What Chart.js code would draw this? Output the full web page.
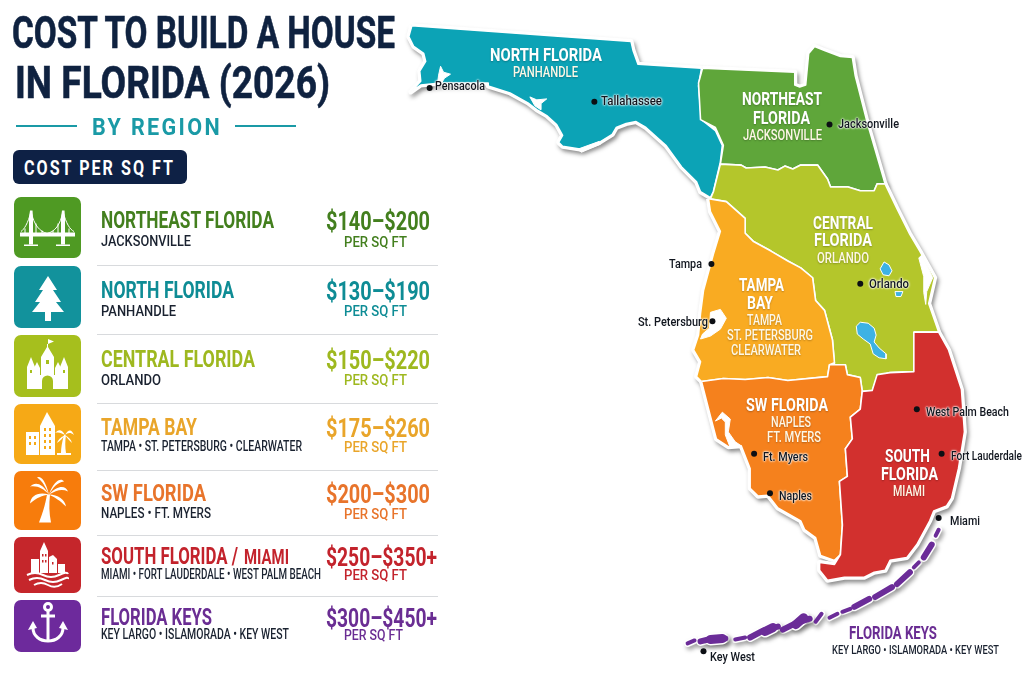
<!DOCTYPE html>
<html>
<head>
<meta charset="utf-8">
<title>Cost to build a house in Florida (2026)</title>
<script src="https://cdn.jsdelivr.net/npm/chart.js@4"></script>
<style>
  html, body { margin: 0; background: #fff; }
  #page { position: relative; width: 1024px; height: 683px; overflow: hidden; }
  canvas { position: absolute; left: 0; top: 0; }
  .t { position: absolute; white-space: nowrap; line-height: 1; transform-origin: 0 50%;
       font-family: "Liberation Sans Narrow", Roboto, sans-serif; }
  .halo { text-shadow: 0 0 2px #fff, 0 0 2px #fff, 0 0 3px #fff; }
  .soft { text-shadow: 0 1px 2px rgba(0,0,0,.25); }
  .heavy { -webkit-text-stroke: 0.6px currentColor; }
  .spaced { letter-spacing: 2.5px; }
  .box { position: absolute; }
  svg { position: absolute; }
</style>
</head>
<body>
<div id="page">
  <canvas id="mapa" width="1024" height="683"></canvas>
</div>
<script>
// datos de la tabla
const regions = ['NORTHEAST FLORIDA', 'NORTH FLORIDA', 'CENTRAL FLORIDA', 'TAMPA BAY', 'SW FLORIDA', 'SOUTH FLORIDA /', 'FLORIDA KEYS'];
const regionCities = ['JACKSONVILLE', 'PANHANDLE', 'ORLANDO', 'TAMPA • ST. PETERSBURG • CLEARWATER', 'NAPLES • FT. MYERS', 'MIAMI • FORT LAUDERDALE • WEST PALM BEACH', 'KEY LARGO • ISLAMORADA • KEY WEST'];
const costLow = [140, 130, 150, 175, 200, 250, 300];
const costHigh = [200, 190, 220, 260, 300, 350, 450];
const costOpenEnded = [false, false, false, false, false, true, true];

// contornos del mapa
const northFlorida = [[411,22],[632,38],[634,47],[639,61],[703,65],[700,83],[703,117],[717,128],[724,143],[722,160],[715,190],[712,196],[702,190],[698,180],[683,165],[667,143],[647,125],[637,119],[627,121],[617,125],[613,132],[600,140],[582,147],[563,144],[559,140],[563,133],[557,122],[547,113],[537,107],[528,100],[510,90],[488,83],[488,80],[440,80],[420,82],[410,89],[420,78],[419,68],[425,58],[423,50],[413,43],[408,33]];
const northeastFlorida = [[704,65],[797,69],[797,82],[802,84],[808,82],[811,50],[817,43],[827,47],[843,53],[855,54],[858,73],[870,120],[888,182],[880,182],[877,189],[863,189],[850,185],[833,185],[830,177],[820,163],[803,163],[795,167],[787,164],[780,168],[767,165],[748,166],[743,163],[722,162],[725,143],[717,125],[702,117],[700,80]];
const centralFlorida = [[722,162],[743,163],[748,166],[767,165],[780,168],[787,164],[795,167],[803,163],[820,163],[830,177],[833,185],[850,185],[863,189],[877,189],[880,182],[888,182],[900,207],[913,233],[923,250],[938,277],[932,303],[942,332],[917,332],[917,372],[893,373],[880,377],[875,392],[865,392],[863,378],[850,375],[848,365],[837,365],[835,340],[827,310],[818,300],[815,277],[803,267],[790,260],[773,250],[755,240],[747,232],[747,217],[728,200],[712,197],[715,190]];
const tampaBay = [[710,197],[728,200],[747,217],[747,232],[755,240],[773,250],[790,260],[803,267],[815,277],[818,300],[827,310],[835,340],[837,363],[832,365],[830,377],[790,381],[770,378],[747,380],[725,379],[703,382],[698,377],[702,362],[695,350],[700,335],[702,313],[705,290],[715,253],[722,230],[712,210]];
const swFlorida = [[703,382],[725,379],[747,380],[770,378],[790,381],[830,377],[832,365],[848,365],[850,375],[863,378],[865,392],[863,410],[853,418],[855,440],[848,450],[850,478],[842,483],[845,527],[843,557],[837,563],[823,558],[818,540],[807,532],[803,523],[780,510],[770,497],[760,498],[752,490],[752,470],[743,447],[730,448],[718,440],[712,417]];
const southFlorida = [[917,332],[942,332],[952,350],[965,390],[968,433],[962,470],[955,500],[950,508],[937,513],[933,523],[920,547],[910,560],[893,563],[888,573],[877,575],[867,580],[847,580],[830,583],[822,573],[822,565],[837,567],[843,557],[845,527],[842,483],[850,478],[848,450],[855,440],[853,418],[863,410],[865,392],[875,391],[880,375],[893,373],[917,372]];

// bahias y lagos
const pensacolaBay = [[438,72],[440,63],[443,69],[450,71],[444,75],[441,80],[437,80]];
const choctawBay = [[530,94],[537,97],[547,96],[541,101],[541,107],[535,103]];
const stJoeBay = [[578,147],[600,139],[601,142],[582,150]];
const tampaWater = [[712,312],[722,309],[728,318],[722,329],[712,336],[702,339],[704,334],[711,328]];
const charlotteHarbor = [[717,422],[724,413],[732,420],[730,433],[737,443],[743,447],[732,449],[727,436],[727,423],[723,419]];
const indianRiver = [[922,257],[925,254],[932,268],[936,277],[930,291],[929,304],[927,292],[927,276]];
const lakeOkeechobee = [[859,326],[863,322],[871,323],[877,328],[879,335],[877,342],[882,348],[889,354],[889,359],[882,358],[876,354],[873,344],[866,339],[860,334]];
const lakeKissimmee = [[887,261],[892,264],[895,270],[892,275],[886,274],[883,268]];
const lakeOrlando = [[898,291],[906,291],[904,296],[899,296]];

// cayos
const keysThin = [[[942,532],[939,538]],[[922,565],[917,570]],[[853,612],[845,615]],[[840,617],[832,621]],[[824,617],[818,625]],[[747,641],[737,643]],[[696,644],[689,647]]];
const keysThick = [[[935,547],[927,560]],[[913,575],[900,587]],[[895,590],[878,600]],[[872,602],[857,610]],[[812,622],[797,627],[785,633]],[[780,630],[765,634],[752,641]],[[727,642],[714,642],[702,645]]];
const keysBlobs = [[[806,621],[798,628]],[[775,631],[767,635]],[[724,642],[712,643]]];

// ciudades
const cityNames = ['Pensacola', 'Tallahassee', 'Jacksonville', 'Tampa', 'St. Petersburg', 'Orlando', 'West Palm Beach', 'Fort Lauderdale', 'Miami', 'Ft. Myers', 'Naples', 'Key West'];
const cityPoints = [[429,85],[595,99],[832,122],[713,263],[714,321],[863,283],[920,410],[945,455],[942,520],[756,455],[772,495],[705,655]];

const pts = arr => arr.map(([x, y]) => ({x, y}));
const closed = arr => pts(arr.concat([arr[0]]));

const outlines = [northFlorida, northeastFlorida, centralFlorida, tampaBay, swFlorida, southFlorida];
const fills = ['#0ca3b6', '#5fa63a', '#b4c62b', '#f9ab22', '#f5811d', '#d2302e'];

function polygon(arr, color, border, width) {
    return { data: closed(arr), showLine: true, pointRadius: 0, tension: 0,
             polygon: color, borderColor: border, borderWidth: width, borderJoinStyle: 'round' };
}
function stroke(arr, width, shadow) {
    return { data: pts(arr), showLine: true, pointRadius: 0, tension: 0, shadow: shadow,
             borderColor: shadow ? '#fff' : '#6b2c98', borderWidth: width, borderCapStyle: 'round', borderJoinStyle: 'round' };
}

const datasets = [];
// fondo blanco con sombra debajo de las regiones
outlines.forEach(o => datasets.push(Object.assign(polygon(o, '#fff', '#fff', 5), {shadow: true})));
keysThin.forEach(k => datasets.push(stroke(k, 7, true)));
keysThick.forEach(k => datasets.push(stroke(k, 9, true)));
keysBlobs.forEach(k => datasets.push(stroke(k, 12, true)));
outlines.forEach((o, i) => datasets.push(polygon(o, fills[i], '#fff', 1.6)));
[pensacolaBay, choctawBay, stJoeBay, tampaWater, charlotteHarbor, indianRiver].forEach(w => datasets.push(polygon(w, '#fff', '#fff', 1)));
[lakeOkeechobee, lakeKissimmee, lakeOrlando].forEach(l => datasets.push(polygon(l, '#3db2e4', '#fff', 1)));
keysThin.forEach(k => datasets.push(stroke(k, 4)));
keysThick.forEach(k => datasets.push(stroke(k, 6)));
keysBlobs.forEach(k => datasets.push(stroke(k, 9)));
datasets.push({ data: pts(cityPoints), showLine: false, pointRadius: 3, pointBorderWidth: 0, pointBackgroundColor: '#0c0f14' });
// el primero del array se pinta encima, asi que se invierte
datasets.forEach((d, i) => { d.order = datasets.length - i; });

// relleno de poligonos y sombra del mapa
const mapPlugin = {
    id: 'mapPlugin',
    beforeDatasetDraw(chart, args) {
        const ds = chart.data.datasets[args.index];
        const ctx = chart.ctx;
        ctx.save();
        if (ds.shadow) {
            ctx.shadowColor = 'rgba(0,0,0,0.35)';
            ctx.shadowBlur = 4;
            ctx.shadowOffsetX = 2;
            ctx.shadowOffsetY = 3;
        }
        if (ds.polygon) {
            ctx.beginPath();
            args.meta.data.forEach((p, i) => i ? ctx.lineTo(p.x, p.y) : ctx.moveTo(p.x, p.y));
            ctx.closePath();
            ctx.fillStyle = ds.polygon;
            ctx.fill();
        }
    },
    afterDatasetDraw(chart) {
        chart.ctx.restore();
    }
};

new Chart(document.getElementById('mapa'), {
    type: 'scatter',
    data: { datasets: datasets },
    plugins: [mapPlugin],
    options: {
        responsive: false,
        animation: false,
        events: [],
        layout: { padding: 0 },
        plugins: { legend: { display: false }, tooltip: { enabled: false } },
        scales: {
            x: { type: 'linear', min: 0, max: 1024, display: false },
            y: { type: 'linear', min: 0, max: 683, reverse: true, display: false }
        }
    }
});

// textos y tabla
const page = document.getElementById('page');
const NAVY = '#0f2240', DARK = '#1a2230';

function label(text, x0, x1, cy, size, weight, color, cls) {
    const s = document.createElement('span');
    s.className = 't ' + (cls || '');
    s.textContent = text;
    s.style.cssText = `left:${x0}px;top:${cy}px;font-size:${size}px;font-weight:${weight};color:${color}`;
    page.appendChild(s);
    const sx = (x1 - x0) / s.getBoundingClientRect().width;
    s.style.transform = `translateY(-50%) scaleX(${sx})`;
}
function box(x, y, w, h, color, radius) {
    const d = document.createElement('div');
    d.className = 'box';
    d.style.cssText = `left:${x}px;top:${y}px;width:${w}px;height:${h}px;background:${color};border-radius:${radius || 0}px`;
    page.appendChild(d);
}

label('COST TO BUILD A HOUSE', 12, 395, 32, 45, 700, NAVY, 'heavy');
label('IN FLORIDA (2026)', 15, 330, 82, 45, 700, NAVY, 'heavy');
label('BY REGION', 92, 222, 126.5, 23, 700, '#1a9aa6', 'spaced');
box(16, 125, 61, 2, '#1a9aa6');
box(235, 125, 61, 2, '#1a9aa6');
box(13, 150, 174, 34, '#0e2145', 6);
label('COST PER SQ FT', 24, 175, 167.5, 20, 700, '#fff', 'spaced');

const iconColors = ['#4f9a23', '#12929c', '#a6bf1d', '#f6a916', '#f77c0c', '#c5262b', '#6d2a9c'];
const textColors = ['#437f1e', '#0e8c95', '#9eb81f', '#e9a52a', '#e8742b', '#c3232c', '#6a2d93'];
const iconTop = [197, 266, 335, 404, 471, 537, 600];
const iconBottom = [258, 328, 397, 464, 530, 593, 652];
const nameY = [220, 290, 359, 427, 493, 556, 617];
const cityY = [242, 312, 381, 447, 514, 575, 635];
const perY = [243, 312, 381, 448, 515, 576, 636];
const nameEnd = [274, 234, 255, 197, 206, 238, 212];
const cityEnd = [191, 176, 161, 302, 211, 321, 289];
const ruleY = [265, 334, 403, 470, 535, 596];

const icons = [
  // puente
  `<g stroke="#fff" fill="none" stroke-width="1"><path d="M17 14C20 28 26 34 33 36C41 34 46 28 49 14M17 14C14 26 10 32 7 34M49 14C52 26 56 32 60 34"/><path d="M11 31V36M22 26V36M28 33V36M39 33V36M44 26V36M55 31V36"/></g><g fill="#fff"><path d="M16 13h2.500L19 20V47H15V20Z"/><path d="M48 13h2.500L51 20V47H47V20Z"/><rect x="6" y="35" width="55" height="4"/><rect x="10" y="47" width="14" height="1.500"/><rect x="42" y="47" width="14" height="1.500"/></g>`,
  // pino
  `<path fill="#fff" d="M34 9L43 23H39L47 35H42L50 45H18L26 35H21L29 23H25Z"/><rect fill="#fff" x="31" y="45" width="6" height="9"/>`,
  // castillo
  `<path fill="#fff" d="M33 8h1V3l6 2.500-6 2.500V11L40 21V53H27V21L33 11Z"/><path fill="#fff" d="M17 21L21 31V53H13V31ZM50 21L54 31V53H46V31Z"/><path fill="#fff" d="M23 26L26 32V53H20V32ZM44 26L47 32V53H41V32Z"/><path fill="#fff" d="M13 39H54V53H13Z"/><path fill="#a6bf1d" d="M28 53V45a5.500 5.500 0 0 1 11 0V53Z"/><path fill="#a6bf1d" d="M32 24h3v4h-3zM16 34h2v3h-2zM49 34h2v3h-2z"/>`,
  // edificios y palmera
  `<path fill="#fff" d="M26 22L33 8L41 22V51H26Z"/><rect fill="#fff" x="12" y="28" width="13" height="23"/><path fill="#f6a916" d="M30 24h2v3h-2zM35 24h2v3h-2zM30 30h2v3h-2zM35 30h2v3h-2zM30 36h2v3h-2zM35 36h2v3h-2zM30 42h2v3h-2zM35 42h2v3h-2zM15 32h2v3h-2zM20 32h2v3h-2zM15 38h2v3h-2zM20 38h2v3h-2z"/><path fill="#fff" d="M50 31C48 38 47 44 47 49H52C51 43 51 37 52 31ZM51 31C47 24 44 26 41 29C45 28 47 29 51 31ZM51 31C55 24 58 26 60 31C56 28 54 29 51 31ZM51 31C48 33 45 34 43 39C47 36 49 34 51 31ZM51 31C54 33 57 35 58 39C55 36 53 34 51 31Z"/><rect fill="#fff" x="43" y="49" width="14" height="2"/>`,
  // palmera
  `<path fill="#fff" d="M33 24C31 36 28 44 25 52H37C35 42 35 34 36 24Z"/><path fill="#fff" d="M35 24C28 12 21 11 16 16C24 15 29 18 35 24ZM35 24C31 8 26 5 23 7C29 11 31 16 35 24ZM35 24C40 10 47 7 50 11C43 12 39 17 35 24ZM35 24C44 14 52 15 54 21C48 18 42 20 35 24ZM35 24C24 21 17 25 16 33C23 27 28 25 35 24ZM35 24C44 24 51 29 52 36C46 30 41 27 35 24Z"/>`,
  // ciudad con olas
  `<path fill="#fff" d="M26 16L30 7L34 16V38H26ZM17 24h8V38H17ZM35 22L39 20L43 24V38H35ZM44 29h7V38H44Z"/><path fill="#c5262b" d="M28 19h1.500v2.500H28zM31 19h1.500v2.500H31zM28 25h1.500v2.500H28zM31 25h1.500v2.500H31zM38 27h1.500v2.500H38z"/><path stroke="#fff" stroke-width="2" fill="none" d="M13 40Q21 36 29 40T45 40T54 39M15 45Q23 41 31 45T47 45T54 44M20 50Q27 46 34 50T48 49"/>`,
  // ancla
  `<g stroke="#fff" fill="none" stroke-width="3"><circle cx="34" cy="11" r="3.500"/><path d="M34 15V44M27 20H41"/><path d="M19 32C19 40 26 45 34 45C42 45 49 40 49 32"/></g><path fill="#fff" d="M14 34L23 32L19 25ZM54 34L45 32L49 25Z"/>`
];

regions.forEach((r, i) => {
    const h = iconBottom[i] - iconTop[i];
    const svg = `<svg style="left:14px;top:${iconTop[i]}px" width="67" height="${h}" viewBox="0 0 67 ${h}"><rect width="67" height="${h}" rx="7" fill="${iconColors[i]}"/><g transform="translate(0 ${(h - 60) / 2})">${icons[i]}</g></svg>`;
    page.insertAdjacentHTML('beforeend', svg);

    label(r, 101, nameEnd[i], nameY[i], 24, 700, textColors[i]);
    label(regionCities[i], 101, cityEnd[i], cityY[i], 14.5, 500, DARK);

    const plus = costOpenEnded[i] ? '+' : '';
    label(`$${costLow[i]}–$${costHigh[i]}${plus}`, 326, plus ? 437 : 430, nameY[i] + 1, 25, 700, textColors[i]);
    label('PER SQ FT', 344, i === 6 ? 403 : 407, perY[i], 15.5, 500, textColors[i]);
});
label('MIAMI', 244, 289, 557, 20, 700, textColors[5]);
ruleY.forEach(y => box(97, y, 341, 1, '#d8dadd'));

// rotulos del mapa: texto, x inicial, x final, y, tamano
const mapTitles = [
  ['NORTH FLORIDA', 490, 602, 54, 19], ['NORTHEAST', 742, 822, 98, 19], ['FLORIDA', 753, 810, 117, 19],
  ['CENTRAL', 813, 873, 222, 19], ['FLORIDA', 814, 872, 239, 19], ['TAMPA', 739, 784, 284, 19], ['BAY', 747, 773, 302, 19],
  ['SW FLORIDA', 746, 828, 404, 19], ['SOUTH', 885, 930, 455, 19], ['FLORIDA', 881, 938, 473, 19]
];
const mapSubtitles = [
  ['PANHANDLE', 513, 578, 71.5], ['JACKSONVILLE', 743, 822, 135], ['ORLANDO', 817, 869, 258], ['TAMPA', 747, 782, 320],
  ['ST. PETERSBURG', 727, 813, 335], ['CLEARWATER', 731, 801, 350], ['NAPLES', 771, 811, 422], ['FT. MYERS', 767, 821, 437], ['MIAMI', 893, 925, 491]
];
mapTitles.forEach(([t, a, b, y, s]) => label(t, a, b, y, s, 700, '#fff', 'soft'));
mapSubtitles.forEach(([t, a, b, y]) => label(t, a, b, y, 14, 500, '#fdf7e6', 'soft'));

const cityLabelStart = [435, 601, 838, 669, 638, 869, 926, 951, 950, 763, 779, 710];
const cityLabelEnd = [485, 662, 899, 702, 708, 909, 1009, 1022, 980, 808, 812, 755];
const cityLabelY = [85, 100, 123, 263, 321, 283, 411, 455, 520, 456, 495, 656];
cityNames.forEach((c, i) => label(c, cityLabelStart[i], cityLabelEnd[i], cityLabelY[i], 13, 500, '#11161f', 'halo'));

label('FLORIDA KEYS', 849, 937, 632, 19, 700, '#6a2d93');
label('KEY LARGO • ISLAMORADA • KEY WEST', 832, 999, 649, 13, 500, DARK);
</script>
</body>
</html>
